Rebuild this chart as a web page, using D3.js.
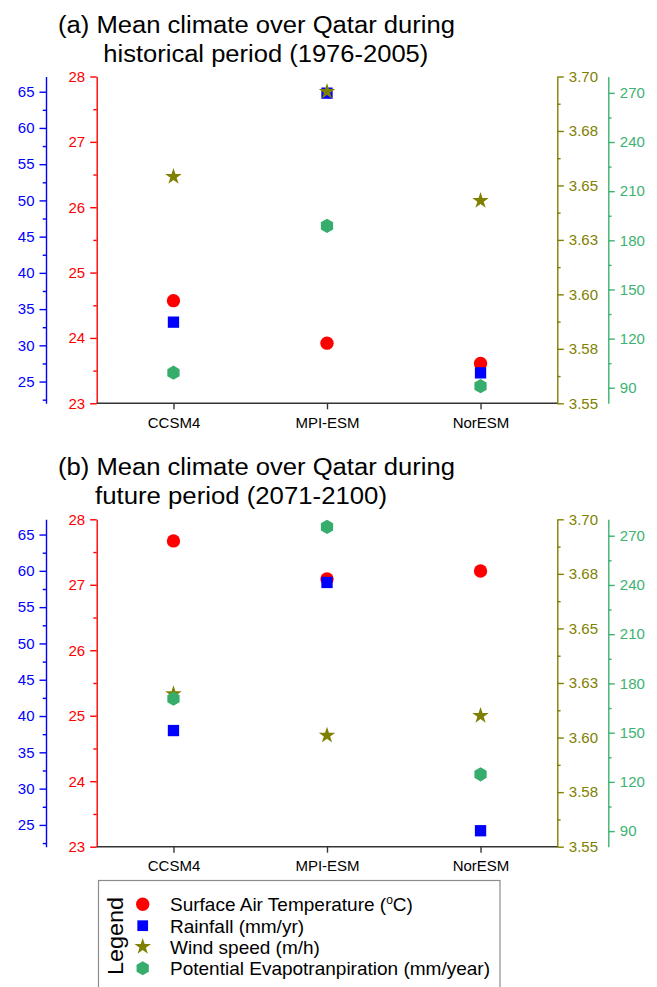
<!DOCTYPE html>
<html>
<head>
<meta charset="utf-8">
<script src="https://cdn.jsdelivr.net/npm/d3@7"></script>
<style>
  body { margin: 0; background: #fff; }
  svg { font-family: "Liberation Sans", Arial, sans-serif; }
</style>
</head>
<body>
<script>
// models on the x axis
var models = ["CCSM4", "MPI-ESM", "NorESM"];

// (a) historical 1976-2005
var histTemp = [24.57, 23.92, 23.61];
var histRain = [33.2, 64.8, 26.2];
var histWind = [3.654, 3.693, 3.643];
var histPet = [99.2, 188.8, 91.0];

// (b) future 2071-2100
var futTemp = [27.67, 27.09, 27.21];
var futRain = [38.0, 58.4, 24.2];
var futWind = [3.620, 3.601, 3.610];
var futPet = [170.7, 275.4, 124.6];

// axis ticks
var tempTicks = [23, 24, 25, 26, 27, 28];
var rainTicks = [25, 30, 35, 40, 45, 50, 55, 60, 65];
var windTicks = [3.55, 3.575, 3.60, 3.625, 3.65, 3.675, 3.70];
var windTickLabels = ["3.55", "3.58", "3.60", "3.63", "3.65", "3.68", "3.70"];
var petTicks = [90, 120, 150, 180, 210, 240, 270];

var tempDomain = [23, 28],
	rainDomain = [22, 67.1],
	windDomain = [3.55, 3.70],
	petDomain = [80.5, 280];

var legendLabels = ["Surface Air Temperature (", "Rainfall (mm/yr)", "Wind speed (m/h)", "Potential Evapotranpiration (mm/year)"];

var RED = "#ff0000", BLUE = "#0000ff", OLIVE = "#808000", GREEN = "#3cb371", HEX = "#36ad6d";

var width = 657, height = 987;
var svg = d3.select("body").append("svg")
	.attr("width", width)
	.attr("height", height);

// pointy-top hexagon, size = radius^2
var hexagon = {
	draw: function(ctx, size) {
		var r = Math.sqrt(size);
		for (var i = 0; i < 6; i++) {
			var a = Math.PI / 2 + i * Math.PI / 3;
			var x = r * Math.cos(a), y = r * Math.sin(a);
			if (i === 0) ctx.moveTo(x, y); else ctx.lineTo(x, y);
		}
		ctx.closePath();
	}
};

var markers = {
	temp: d3.symbol().type(d3.symbolCircle).size(140),
	rain: d3.symbol().type(d3.symbolSquare).size(128),
	wind: d3.symbol().type(d3.symbolStar).size(85),
	pet: d3.symbol().type(hexagon).size(50)
};

var xLeft = 96.7, xRight = 557.3;
var x = d3.scalePoint().domain(models).range([xLeft, xRight]).padding(0.5);

function minorTicks(domain, step, majors) {
	var start = Math.ceil(domain[0] / step) * step;
	return d3.range(start, domain[1] + 1e-9, step).filter(function(v) {
		return !majors.some(function(m) { return Math.abs(m - v) < 1e-6; });
	});
}

function yAxis(g, scale, pos, orient, color, majors, minorStep, fmt) {
	var axisFn = orient === "left" ? d3.axisLeft : d3.axisRight;
	var a = g.append("g").attr("transform", "translate(" + pos + ",0)");
	a.call(axisFn(scale).tickValues(majors).tickSize(6.5).tickPadding(5)
		.tickSizeOuter(0).tickFormat(fmt));
	a.append("g").call(axisFn(scale).tickValues(minorTicks(scale.domain(), minorStep, majors))
		.tickSize(3.3).tickSizeOuter(0).tickFormat(""))
		.select(".domain").remove();
	a.selectAll("path, line").attr("stroke", color).attr("stroke-width", 1.4);
	a.selectAll("text").attr("fill", color).style("font-size", "15px")
		.style("font-family", "'Liberation Sans', Arial, sans-serif");
}

function drawPanel(top, bottom, titleLines, temp, rain, wind, pet) {
	var g = svg.append("g");

	// title, two lines
	g.append("text").attr("x", 58).attr("y", top - 44)
		.attr("textLength", 397).attr("lengthAdjust", "spacingAndGlyphs")
		.style("font-size", "23px").attr("fill", "#000").text(titleLines[0]);
	g.append("text").attr("x", titleLines[2]).attr("y", top - 15)
		.attr("textLength", titleLines[3]).attr("lengthAdjust", "spacingAndGlyphs")
		.style("font-size", "23px").attr("fill", "#000").text(titleLines[1]);

	var yTemp = d3.scaleLinear().domain(tempDomain).range([bottom, top]);
	var yRain = d3.scaleLinear().domain(rainDomain).range([bottom, top]);
	var yWind = d3.scaleLinear().domain(windDomain).range([bottom, top]);
	var yPet = d3.scaleLinear().domain(petDomain).range([bottom, top]);

	yAxis(g, yRain, 46, "left", BLUE, rainTicks, 2.5, d3.format("d"));
	yAxis(g, yTemp, xLeft, "left", RED, tempTicks, 0.5, d3.format("d"));
	yAxis(g, yWind, xRight, "right", OLIVE, windTicks, 0.0125, function(d, i) { return windTickLabels[i]; });
	yAxis(g, yPet, 608.3, "right", GREEN, petTicks, 15, d3.format("d"));

	// bottom category axis
	var xa = g.append("g").attr("transform", "translate(0," + bottom + ")")
		.call(d3.axisBottom(x).tickSize(6).tickPadding(8).tickSizeOuter(0));
	xa.select(".domain").attr("d", "M" + xLeft + ",0H" + xRight);
	xa.selectAll("path, line").attr("stroke", "#333").attr("stroke-width", 1.4);
	xa.selectAll("text").attr("fill", "#000").style("font-size", "15px")
		.style("font-family", "'Liberation Sans', Arial, sans-serif");

	// markers: temp, rain, wind, pet (in that stacking order)
	var series = [
		{ vals: temp, y: yTemp, sym: markers.temp, fill: RED },
		{ vals: rain, y: yRain, sym: markers.rain, fill: BLUE },
		{ vals: wind, y: yWind, sym: markers.wind, fill: OLIVE },
		{ vals: pet, y: yPet, sym: markers.pet, fill: HEX }
	];
	series.forEach(function(s) {
		g.append("g").selectAll("path")
			.data(s.vals)
			.enter()
			.append("path")
			.attr("d", s.sym)
			.attr("transform", function(d, i) { return "translate(" + x(models[i]) + "," + s.y(d) + ")"; })
			.attr("fill", s.fill);
	});
}

drawPanel(76.5, 403.3, ["(a) Mean climate over Qatar during", "historical period (1976-2005)", 103.3, 325],
	histTemp, histRain, histWind, histPet);
drawPanel(519.3, 846.7, ["(b) Mean climate over Qatar during", "future period (2071-2100)", 95, 292],
	futTemp, futRain, futWind, futPet);

// legend
var lg = svg.append("g");
lg.append("rect").attr("x", 98.5).attr("y", 880.5).attr("width", 401.5).attr("height", 110)
	.attr("fill", "#fff").attr("stroke", "#8c8c8c").attr("stroke-width", 1.2);
lg.append("text")
	.attr("transform", "translate(123.3,936) rotate(-90)")
	.attr("text-anchor", "middle")
	.attr("textLength", 78).attr("lengthAdjust", "spacingAndGlyphs")
	.style("font-size", "22px").attr("fill", "#000").text("Legend");

var legendSyms = [markers.temp, d3.symbol().type(d3.symbolSquare).size(115), markers.wind, markers.pet];
var legendFills = [RED, BLUE, OLIVE, HEX];
var rowY = [904.3, 925.7, 946.7, 968.3];
legendLabels.forEach(function(lab, i) {
	lg.append("path").attr("d", legendSyms[i])
		.attr("transform", "translate(142.7," + rowY[i] + ")")
		.attr("fill", legendFills[i]);
	var t = lg.append("text").attr("x", 170).attr("y", rowY[i] + 7)
		.style("font-size", "19px").attr("fill", "#000").text(lab);
	if (i === 0) {
		t.append("tspan").attr("dy", -7).style("font-size", "12px").text("o");
		t.append("tspan").attr("dy", 7).text("C)");
	}
});
</script>
</body>
</html>
